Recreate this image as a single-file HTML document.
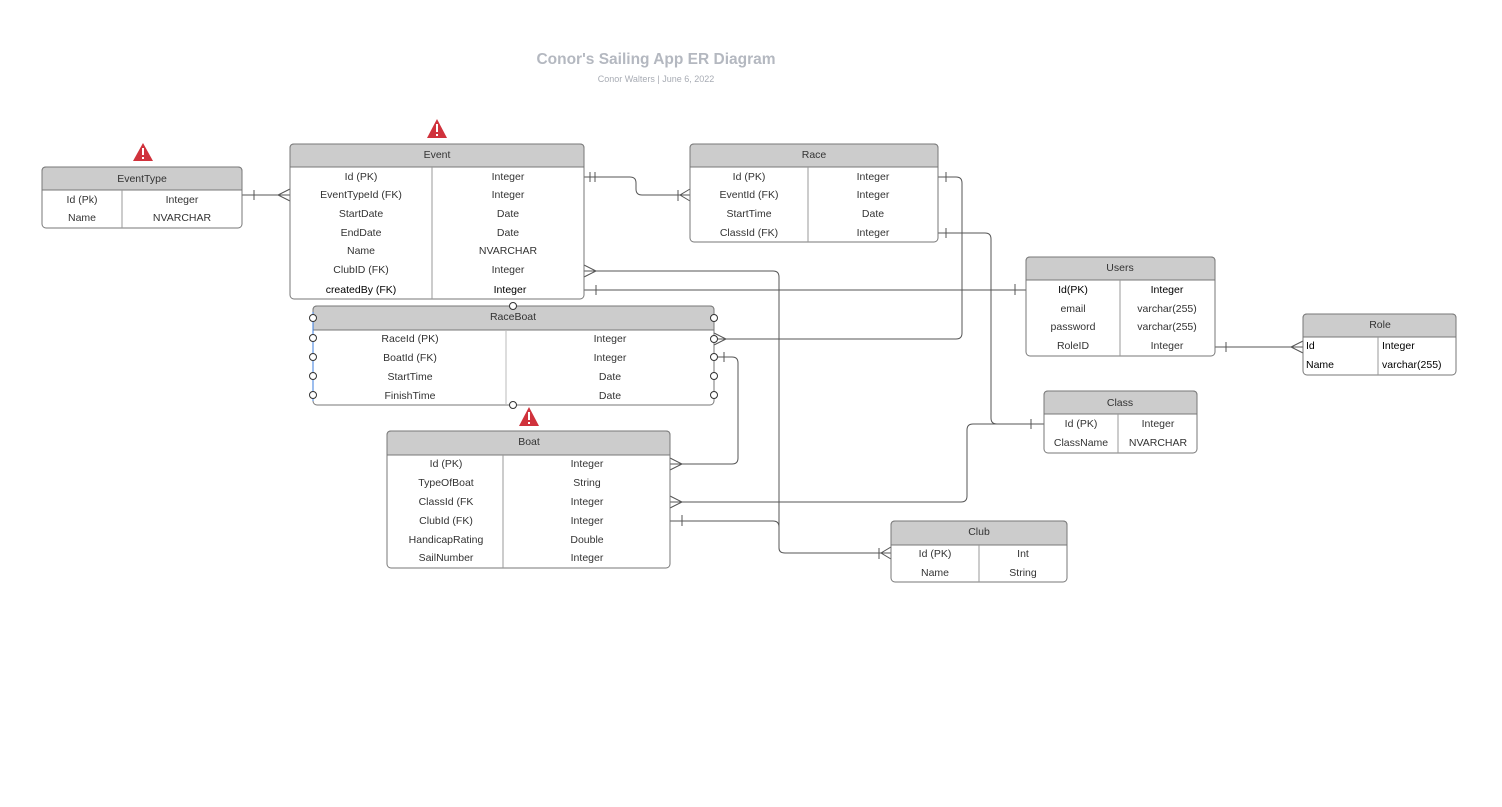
<!DOCTYPE html>
<html><head><meta charset="utf-8"><style>
html,body{margin:0;padding:0;background:#fff;}
svg{display:block;}
text{font-family:"Liberation Sans",Arial,sans-serif;font-size:10.5px;fill:#333;}
.h{fill:#cccccc;stroke:#777;stroke-width:1;}
.b{fill:#fff;stroke:#777;stroke-width:1;}
.ln{fill:none;stroke:#555;stroke-width:1;}
.c{fill:#fff;stroke:#333;stroke-width:1;}
</style></head><body>
<svg width="1502" height="807" viewBox="0 0 1502 807" xmlns="http://www.w3.org/2000/svg">
<text x="656" y="64" text-anchor="middle" style="font-size:15.5px;font-weight:bold;fill:#b4b8c0">Conor's Sailing App ER Diagram</text>
<text x="656" y="82" text-anchor="middle" style="font-size:9px;fill:#a8acb4">Conor Walters  |  June 6, 2022</text>

<g class="ln">
<path d="M242 195H290"/><path d="M254 190v10"/><path d="M290 189L278 195L290 201"/>
<path d="M584 177H630q6 0 6 6v6q0 6 6 6H690"/><path d="M590 172v10M595 172v10"/><path d="M678 190v11M690 189L680 195L690 201"/>
<path d="M584 271H773q6 0 6 6V548q0 5 6 5H891"/><path d="M584 265L596 271L584 277"/><path d="M879 548v11M891 547L881 553L891 559"/>
<path d="M584 290H1026"/><path d="M596 285v10M1015 284v11"/>
<path d="M938 177H956q6 0 6 6V333q0 6 -6 6H714"/><path d="M946 172v10"/><path d="M714 333L726 339L714 345"/>
<path d="M938 233H985q6 0 6 6V418q0 6 6 6H1044"/><path d="M946 228v10M1031 419v10"/>
<path d="M1215 347H1303"/><path d="M1226 342v10"/><path d="M1303 341L1291 347L1303 353"/>
<path d="M714 357H732q6 0 6 6V458q0 6 -6 6H670"/><path d="M724 352v10"/><path d="M670 458L682 464L670 470"/>
<path d="M1044 424H973q-6 0 -6 6V496q0 6 -6 6H670"/><path d="M670 496L682 502L670 508"/>
<path d="M670 521H773q6 0 6 6"/><path d="M682 515v11"/>
</g>

<g fill="#d0323c">
<path d="M143 143L153 161H133Z"/><path d="M437 119L447 138H427Z"/><path d="M529 407L539 426H519Z"/>
</g>
<g fill="#fff"><rect x="142" y="148" width="2" height="7"/><rect x="142" y="157" width="2" height="2"/>
<rect x="436" y="124" width="2" height="8"/><rect x="436" y="134" width="2" height="2"/>
<rect x="528" y="412" width="2" height="8"/><rect x="528" y="422" width="2" height="2"/></g>

<rect class="b" x="42" y="167" width="200" height="61" rx="4"/>
<path class="h" d="M42 190V171q0-4 4-4H238q4 0 4 4V190Z"/>
<path class="ln" d="M122 190V228" style="stroke:#999"/>
<text x="142" y="182" text-anchor="middle">EventType</text>
<text x="82" y="203" text-anchor="middle">Id (Pk)</text><text x="182" y="203" text-anchor="middle">Integer</text>
<text x="82" y="221" text-anchor="middle">Name</text><text x="182" y="221" text-anchor="middle">NVARCHAR</text>

<rect class="b" x="290" y="144" width="294" height="155" rx="4"/>
<path class="h" d="M290 167V148q0-4 4-4H580q4 0 4 4V167Z"/>
<path class="ln" d="M432 167V299" style="stroke:#999"/>
<text x="437" y="158" text-anchor="middle">Event</text>
<g text-anchor="middle">
<text x="361" y="180">Id (PK)</text><text x="508" y="180">Integer</text>
<text x="361" y="198">EventTypeId (FK)</text><text x="508" y="198">Integer</text>
<text x="361" y="217">StartDate</text><text x="508" y="217">Date</text>
<text x="361" y="236">EndDate</text><text x="508" y="236">Date</text>
<text x="361" y="254">Name</text><text x="508" y="254">NVARCHAR</text>
<text x="361" y="273">ClubID  (FK)</text><text x="508" y="273">Integer</text>
<text x="361" y="293" style="fill:#000">createdBy (FK)</text><text x="510" y="293" style="fill:#000">Integer</text>
</g>

<rect class="b" x="690" y="144" width="248" height="98" rx="4"/>
<path class="h" d="M690 167V148q0-4 4-4H934q4 0 4 4V167Z"/>
<path class="ln" d="M808 167V242" style="stroke:#999"/>
<text x="814" y="158" text-anchor="middle">Race</text>
<g text-anchor="middle">
<text x="749" y="180">Id (PK)</text><text x="873" y="180">Integer</text>
<text x="749" y="198">EventId (FK)</text><text x="873" y="198">Integer</text>
<text x="749" y="217">StartTime</text><text x="873" y="217">Date</text>
<text x="749" y="236">ClassId (FK)</text><text x="873" y="236">Integer</text>
</g>

<rect class="b" x="1026" y="257" width="189" height="99" rx="4"/>
<path class="h" d="M1026 280V261q0-4 4-4H1211q4 0 4 4V280Z"/>
<path class="ln" d="M1120 280V356" style="stroke:#999"/>
<text x="1120" y="271" text-anchor="middle">Users</text>
<g text-anchor="middle">
<text x="1073" y="293" style="fill:#000">Id(PK)</text><text x="1167" y="293" style="fill:#000">Integer</text>
<text x="1073" y="312">email</text><text x="1167" y="312">varchar(255)</text>
<text x="1073" y="330">password</text><text x="1167" y="330">varchar(255)</text>
<text x="1073" y="349">RoleID</text><text x="1167" y="349">Integer</text>
</g>

<rect class="b" x="1303" y="314" width="153" height="61" rx="4"/>
<path class="h" d="M1303 337V318q0-4 4-4H1452q4 0 4 4V337Z"/>
<path class="ln" d="M1378 337V375" style="stroke:#999"/>
<text x="1380" y="328" text-anchor="middle">Role</text>
<text x="1306" y="349" style="fill:#000">Id</text><text x="1382" y="349" style="fill:#000">Integer</text>
<text x="1306" y="368" style="fill:#000">Name</text><text x="1382" y="368" style="fill:#000">varchar(255)</text>

<rect class="b" x="1044" y="391" width="153" height="62" rx="4"/>
<path class="h" d="M1044 414V395q0-4 4-4H1193q4 0 4 4V414Z"/>
<path class="ln" d="M1118 414V453" style="stroke:#999"/>
<text x="1120" y="406" text-anchor="middle">Class</text>
<g text-anchor="middle">
<text x="1081" y="427">Id (PK)</text><text x="1158" y="427">Integer</text>
<text x="1081" y="446">ClassName</text><text x="1158" y="446">NVARCHAR</text>
</g>

<rect class="b" x="891" y="521" width="176" height="61" rx="4"/>
<path class="h" d="M891 545V525q0-4 4-4H1063q4 0 4 4V545Z"/>
<path class="ln" d="M979 545V582" style="stroke:#999"/>
<text x="979" y="535" text-anchor="middle">Club</text>
<g text-anchor="middle">
<text x="935" y="557">Id (PK)</text><text x="1023" y="557">Int</text>
<text x="935" y="576">Name</text><text x="1023" y="576">String</text>
</g>

<rect class="b" x="387" y="431" width="283" height="137" rx="4"/>
<path class="h" d="M387 455V435q0-4 4-4H666q4 0 4 4V455Z"/>
<path class="ln" d="M503 455V568" style="stroke:#999"/>
<text x="529" y="445" text-anchor="middle">Boat</text>
<g text-anchor="middle">
<text x="446" y="467">Id (PK)</text><text x="587" y="467">Integer</text>
<text x="446" y="486">TypeOfBoat</text><text x="587" y="486">String</text>
<text x="446" y="505">ClassId (FK</text><text x="587" y="505">Integer</text>
<text x="446" y="524">ClubId (FK)</text><text x="587" y="524">Integer</text>
<text x="446" y="543">HandicapRating</text><text x="587" y="543">Double</text>
<text x="446" y="561">SailNumber</text><text x="587" y="561">Integer</text>
</g>

<rect class="b" x="313" y="306" width="401" height="99" rx="4"/>
<path class="h" d="M313 330V310q0-4 4-4H710q4 0 4 4V330Z"/>
<path class="ln" d="M506 330V405" style="stroke:#bbb"/>
<path d="M313 312V401" stroke="#3b7ddd" stroke-width="1" fill="none"/>
<text x="513" y="320" text-anchor="middle">RaceBoat</text>
<g text-anchor="middle">
<text x="410" y="342">RaceId (PK)</text><text x="610" y="342">Integer</text>
<text x="410" y="361">BoatId (FK)</text><text x="610" y="361">Integer</text>
<text x="410" y="380">StartTime</text><text x="610" y="380">Date</text>
<text x="410" y="399">FinishTime</text><text x="610" y="399">Date</text>
</g>
<g class="c">
<circle cx="513" cy="306" r="3.5"/><circle cx="513" cy="405" r="3.5"/>
<circle cx="313" cy="318" r="3.5"/><circle cx="313" cy="338" r="3.5"/><circle cx="313" cy="357" r="3.5"/><circle cx="313" cy="376" r="3.5"/><circle cx="313" cy="395" r="3.5"/>
<circle cx="714" cy="318" r="3.5"/><circle cx="714" cy="339" r="3.5"/><circle cx="714" cy="357" r="3.5"/><circle cx="714" cy="376" r="3.5"/><circle cx="714" cy="395" r="3.5"/>
</g>
</svg>
</body></html>
